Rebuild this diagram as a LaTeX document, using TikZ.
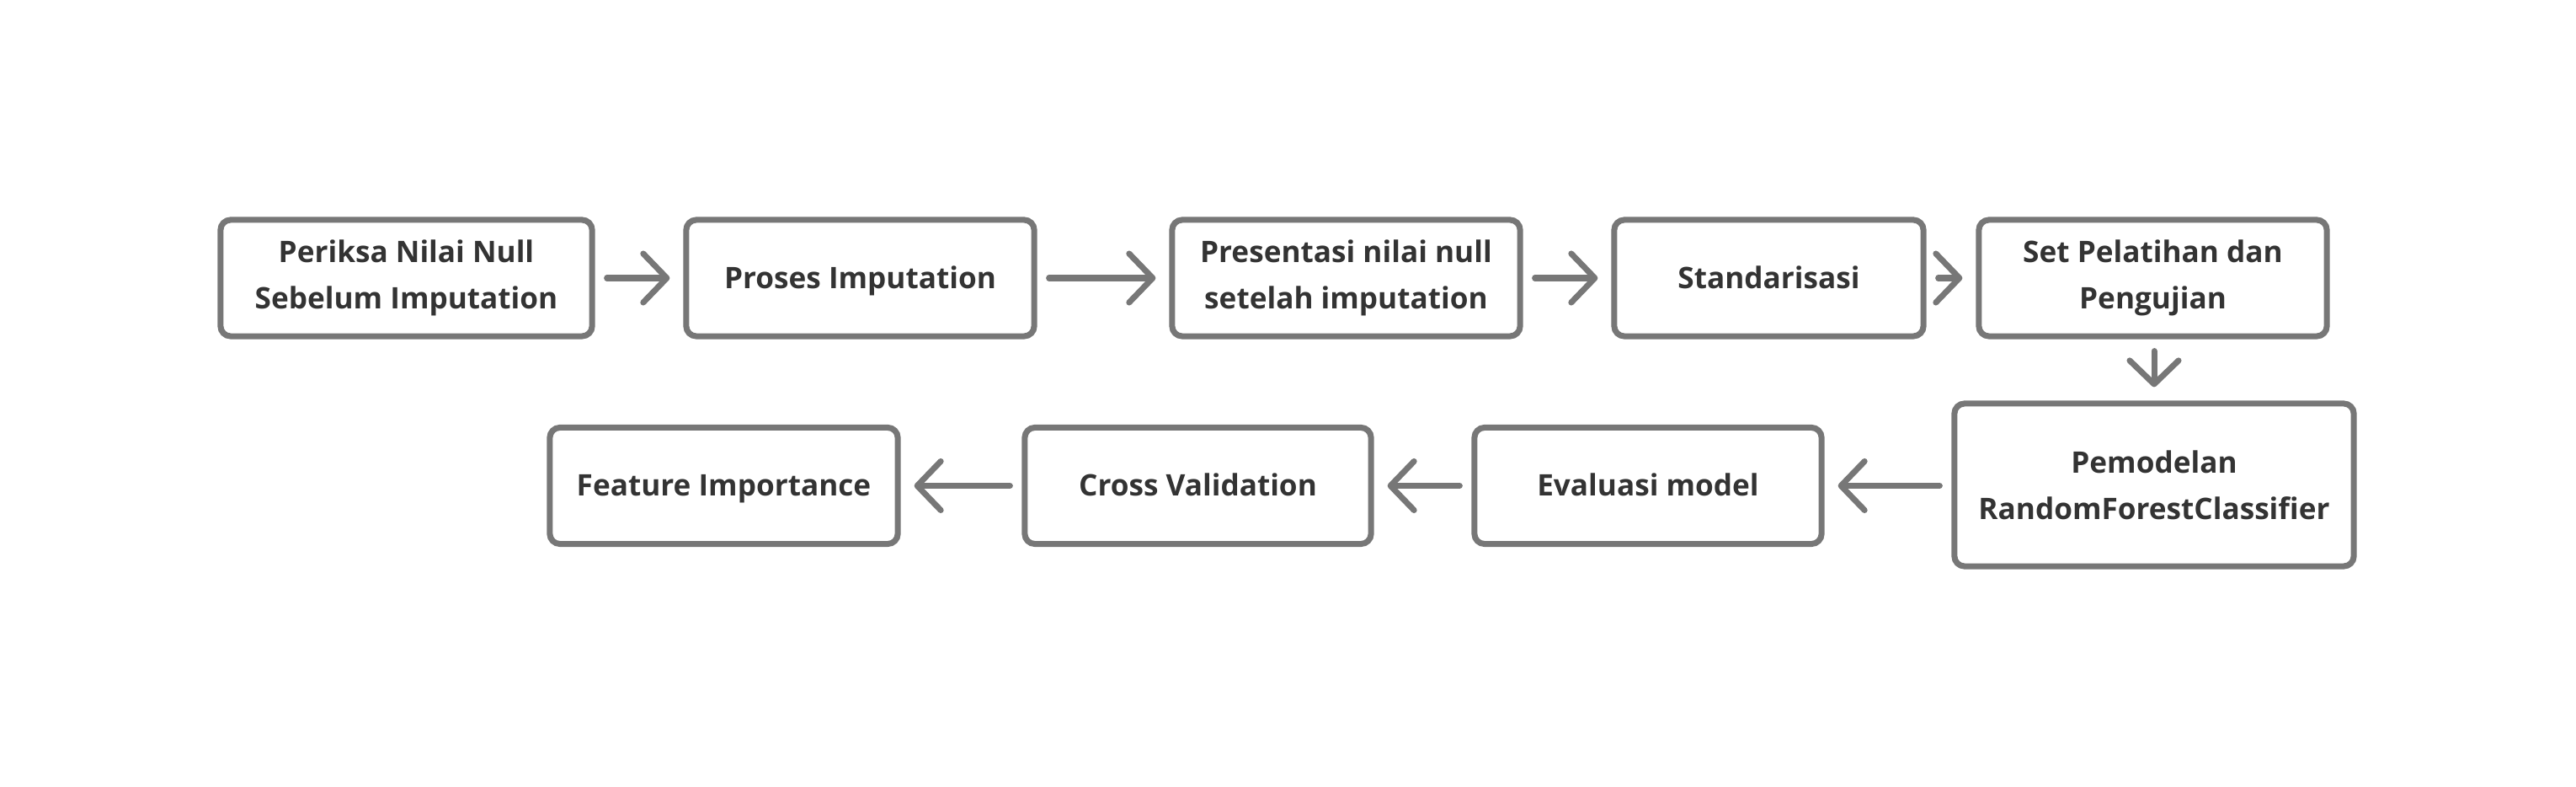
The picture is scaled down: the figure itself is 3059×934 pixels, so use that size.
\documentclass[tikz,border=0pt]{standalone}
\usepackage{fontspec}
\setmainfont{Open Sans}
\usetikzlibrary{arrows.meta}

\definecolor{linegray}{HTML}{777777}
\definecolor{textgray}{HTML}{333333}

\tikzset{
  stepbox/.style={draw=linegray, line width=2pt, rounded corners=0.12cm,
    minimum height=1.38cm, align=center, text=textgray,
    font=\bfseries\fontsize{10}{15.6}\selectfont, inner sep=0pt},
  onebox/.style={stepbox, text height=1.5ex, text depth=0.2ex},
  flow/.style={draw=linegray, line width=2pt, line cap=round,
    -{Straight Barb[length=0.28cm, width=0.58cm, line cap=round, round]},
    shorten <=0.14cm, shorten >=0.16cm}
}

\begin{document}
\begin{tikzpicture}[x=0.01cm, y=-0.01cm]
\useasboundingbox (0,0) rectangle (3059,934);

% first row
\node[stepbox, minimum width=4.41cm] (b1) at (482.5,330) {Periksa Nilai Null\\Sebelum Imputation};
\node[onebox, minimum width=4.13cm] (b2) at (1021.5,330) {Proses Imputation};
\node[stepbox, minimum width=4.13cm] (b3) at (1598.5,330) {Presentasi nilai null\\setelah imputation};
\node[onebox, minimum width=3.67cm] (b4) at (2100.5,330) {Standarisasi};
\node[stepbox, minimum width=4.13cm] (b5) at (2556.5,330) {Set Pelatihan dan\\Pengujian};

% second row
\node[stepbox, minimum width=4.74cm, minimum height=1.93cm] (b6) at (2558,575.5) {Pemodelan\\RandomForestClassifier};
\node[onebox, minimum width=4.12cm] (b7) at (1957,576.5) {Evaluasi model};
\node[onebox, minimum width=4.11cm] (b8) at (1422.5,576.5) {Cross Validation};
\node[onebox, minimum width=4.13cm] (b9) at (859.5,576.5) {Feature Importance};

\draw[flow] (b1) -- (b2);
\draw[flow] (b2) -- (b3);
\draw[flow] (b3) -- (b4);
\draw[flow] (b4) -- (b5);
\draw[flow] (b5.south -| b6.north) -- (b6.north);
\draw[flow] (b6.west |- b7.east) -- (b7.east);
\draw[flow] (b7) -- (b8);
\draw[flow] (b8) -- (b9);
\end{tikzpicture}
\end{document}
